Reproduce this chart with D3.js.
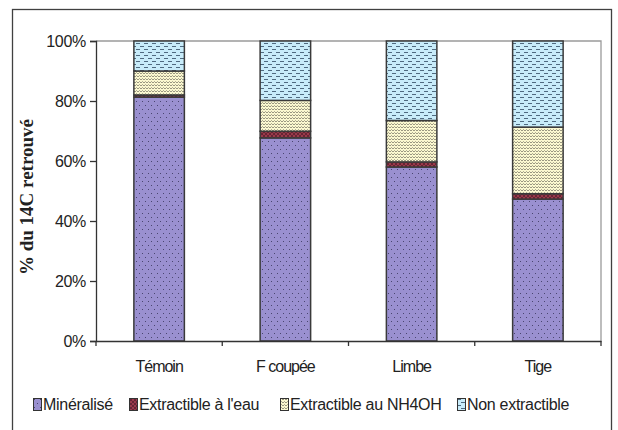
<!DOCTYPE html>
<html><head><meta charset="utf-8">
<script src="https://cdn.jsdelivr.net/npm/d3@7"></script>
<style>
html,body{margin:0;padding:0;background:#fff;}
svg{display:block;}
.tick text{font-family:"Liberation Sans",Arial,sans-serif;}
</style></head>
<body>
<svg id="chart" width="618" height="430"></svg>
<script>
const categories = ["Témoin", "F coupée", "Limbe", "Tige"];
const seriesNames = ["Minéralisé", "Extractible à l'eau", "Extractible au NH4OH", "Non extractible"];
const mineralise = [81.3, 67.7, 58.0, 47.3];
const extractEau = [0.7, 2.2, 1.7, 1.8];
const extractNH4OH = [8.0, 10.3, 13.8, 22.2];
const nonExtractible = [10.0, 19.8, 26.5, 28.7];
const yTicks = [0, 20, 40, 60, 80, 100];
const yTitle = "% du 14C retrouvé";

const svg = d3.select("#chart");
const defs = svg.append("defs");

function pat(id, w, h, bg, draw) {
  const p = defs.append("pattern").attr("id", id).attr("patternUnits", "userSpaceOnUse")
    .attr("width", w).attr("height", h);
  p.append("rect").attr("width", w).attr("height", h).attr("fill", bg);
  draw(p);
}
pat("pMin", 6, 8, "#9a90d0", p => {
  p.append("rect").attr("x", 1).attr("y", 1).attr("width", 1).attr("height", 1).attr("fill", "#4a4670");
  p.append("rect").attr("x", 4).attr("y", 5).attr("width", 1).attr("height", 1).attr("fill", "#4a4670");
});
pat("pEau", 4, 4, "#9a3a4a", p => {
  p.append("path").attr("d", "M0,0L4,4M4,0L0,4").attr("stroke", "#5a2030").attr("stroke-width", 0.8);
});
pat("pNH", 6, 6, "#fbf8d0", p => {
  p.append("path").attr("d", "M0,2L1.5,0.5L3,2L4.5,0.5L6,2M0,5L1.5,3.5L3,5L4.5,3.5L6,5")
    .attr("stroke", "#8f8c78").attr("stroke-width", 0.9).attr("fill", "none");
});
pat("pNon", 8, 6, "#c8ecfa", p => {
  p.append("rect").attr("x", 0).attr("y", 1).attr("width", 4).attr("height", 1).attr("fill", "#4f6a80");
  p.append("rect").attr("x", 4).attr("y", 4).attr("width", 4).attr("height", 1).attr("fill", "#4f6a80");
});
const fills = ["url(#pMin)", "url(#pEau)", "url(#pNH)", "url(#pNon)"];

// outer frame
svg.append("rect").attr("x", 12.5).attr("y", 9.5).attr("width", 599).attr("height", 440)
  .attr("fill", "none").attr("stroke", "#404040").attr("stroke-width", 1.3);

const pLeft = 96, pRight = 601, pTop = 41, pBottom = 341;
const x = d3.scaleBand().domain(categories).range([pLeft, pRight]).paddingInner(0.6).paddingOuter(0.3);
const y = d3.scaleLinear().domain([0, 100]).range([pBottom, pTop]);

// plot area border (top & right)
svg.append("path").attr("d", `M${pLeft},${pTop}H${pRight}V${pBottom}`)
  .attr("fill", "none").attr("stroke", "#9a9a9a").attr("stroke-width", 1.3);

const stackData = categories.map((c, i) => ({
  cat: c, s0: mineralise[i], s1: extractEau[i], s2: extractNH4OH[i], s3: nonExtractible[i]
}));
const series = d3.stack().keys(["s0", "s1", "s2", "s3"])(stackData);

series.forEach((s, si) => {
  svg.append("g").selectAll("rect").data(s).join("rect")
    .attr("x", d => x(d.data.cat))
    .attr("width", x.bandwidth())
    .attr("y", d => y(d[1]))
    .attr("height", d => y(d[0]) - y(d[1]))
    .attr("fill", fills[si])
    .attr("stroke", "#3a3a3a").attr("stroke-width", 1.5);
});

// y axis
const yAxis = d3.axisLeft(y).tickValues(yTicks).tickFormat(d => d + "%").tickSize(6).tickPadding(4);
const gy = svg.append("g").attr("transform", `translate(${pLeft},0)`).call(yAxis);
gy.select(".domain").attr("stroke", "#333").attr("stroke-width", 1.3);
gy.selectAll(".tick line").attr("stroke", "#333").attr("stroke-width", 1.3);
gy.selectAll(".tick text").attr("font-size", 16).attr("fill", "#222").attr("letter-spacing", "-0.3px");

// x axis
const xAxis = d3.axisBottom(x).tickSize(0).tickPadding(20);
const gx = svg.append("g").attr("transform", `translate(0,${pBottom})`).call(xAxis);
gx.select(".domain").attr("stroke", "#333").attr("stroke-width", 1.3);
gx.selectAll(".tick text").attr("font-size", 16).attr("fill", "#222").attr("letter-spacing", "-1px");
// category boundary ticks
const bScale = d3.scaleLinear().domain([0, categories.length]).range([pLeft, pRight]);
svg.append("g").selectAll("line").data(d3.range(categories.length + 1)).join("line")
  .attr("x1", d => bScale(d)).attr("x2", d => bScale(d))
  .attr("y1", pBottom).attr("y2", pBottom + 5)
  .attr("stroke", "#333").attr("stroke-width", 1.3);

// y title
svg.append("text").attr("transform", `translate(33,197) rotate(-90)`)
  .attr("text-anchor", "middle")
  .attr("font-family", "'Liberation Serif','Times New Roman',serif")
  .attr("font-weight", "bold").attr("font-size", 19).attr("fill", "#222")
  .text(yTitle);

// legend
const legendX = [33, 129, 280, 457];
const lg = svg.append("g");
seriesNames.forEach((n, i) => {
  const g = lg.append("g").attr("transform", `translate(${legendX[i]},398)`);
  g.append("rect").attr("x", 0.5).attr("y", 0.5).attr("width", 8).attr("height", 12)
    .attr("fill", fills[i]).attr("stroke", "#333").attr("stroke-width", 1);
  g.append("text").attr("x", 10).attr("y", 12)
    .attr("font-family", "'Liberation Sans',Arial,sans-serif").attr("font-size", 16)
    .attr("letter-spacing", "-0.3px").attr("fill", "#222").text(n);
});
</script>
</body></html>
